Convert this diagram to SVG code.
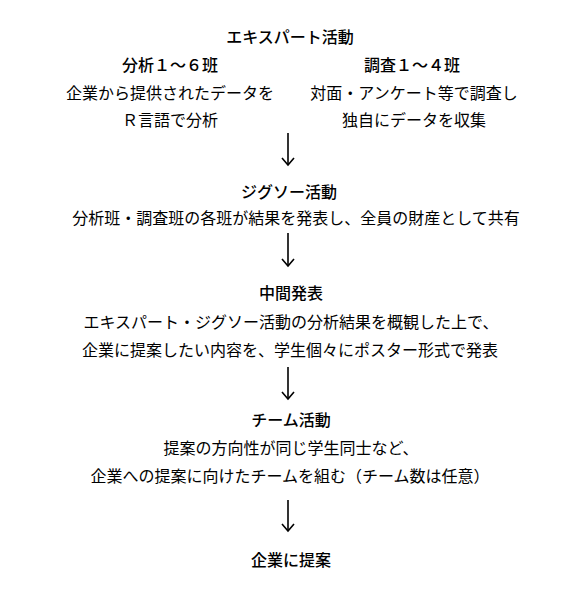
<svg xmlns="http://www.w3.org/2000/svg" width="571" height="604" viewBox="0 0 571 604">
<style>
text{font-family:"Noto Sans CJK JP","Noto Sans CJK SC",sans-serif;font-size:16px;fill:#000;text-anchor:middle}
.h{font-weight:500}
.arr{stroke:#000;stroke-width:1.6;fill:none}
</style>
<defs>
<marker id="ah" markerWidth="10" markerHeight="14" refX="8" refY="7" orient="auto" markerUnits="userSpaceOnUse" viewBox="0 0 10 14">
<path d="M1,1 L8,7 L1,13" fill="none" stroke="#000" stroke-width="1.6"/>
</marker>
</defs>
<rect width="571" height="604" fill="#fff"/>
<g id="expert">
<text class="h" x="290" y="43">エキスパート活動</text>
<text class="h" x="170" y="71">分析１～６班</text>
<text x="170" y="99">企業から提供されたデータを</text>
<text x="170" y="126">Ｒ言語で分析</text>
<text class="h" x="412" y="71">調査１～４班</text>
<text x="414" y="99">対面・アンケート等で調査し</text>
<text x="414" y="126">独自にデータを収集</text>
</g>
<g id="jigsaw">
<text class="h" x="289" y="198">ジグソー活動</text>
<text x="296" y="224">分析班・調査班の各班が結果を発表し、全員の財産として共有</text>
</g>
<g id="midterm">
<text class="h" x="291" y="299">中間発表</text>
<text x="291" y="328">エキスパート・ジグソー活動の分析結果を概観した上で、</text>
<text x="290" y="356">企業に提案したい内容を、学生個々にポスター形式で発表</text>
</g>
<g id="team">
<text class="h" x="291" y="426">チーム活動</text>
<text x="291" y="454">提案の方向性が同じ学生同士など、</text>
<text x="290" y="482">企業への提案に向けたチームを組む（チーム数は任意）</text>
</g>
<g id="proposal">
<text class="h" x="291" y="566">企業に提案</text>
</g>
<g id="connectors">
<path class="arr" d="M288,133 V165" marker-end="url(#ah)"/>
<path class="arr" d="M288,233 V266" marker-end="url(#ah)"/>
<path class="arr" d="M288,367 V399" marker-end="url(#ah)"/>
<path class="arr" d="M288,500 V531" marker-end="url(#ah)"/>
</g>
</svg>
